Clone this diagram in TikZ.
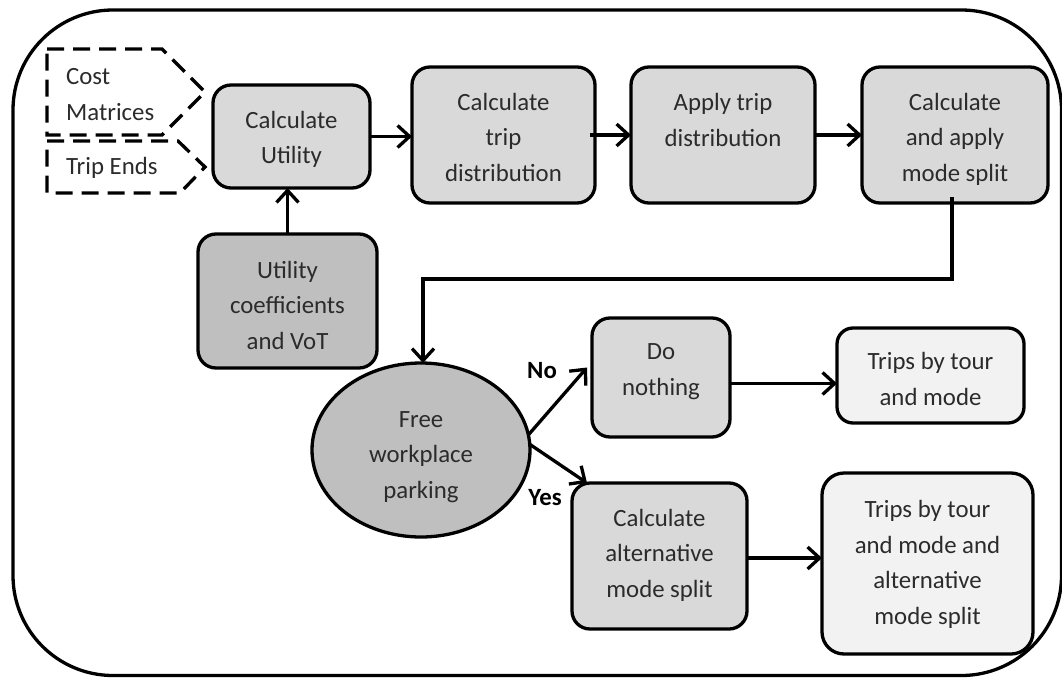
\documentclass[tikz,border=0pt]{standalone}
\usepackage{fontspec}
\setmainfont{Carlito}
\usetikzlibrary{arrows.meta,shapes.geometric}
\definecolor{ink}{HTML}{2B2B2B}
\definecolor{procfill}{HTML}{D9D9D9}
\definecolor{inputfill}{HTML}{BFBFBF}
\definecolor{outfill}{HTML}{F2F2F2}
\newcommand{\bodyfont}{\fontsize{24.8pt}{35.5pt}\selectfont}
\tikzset{
  box/.style={draw=black, line width=3.3pt, rounded corners=18pt, anchor=north west,
    inner sep=0pt, outer sep=0pt},
  proc/.style={box, fill=procfill},
  inbox/.style={box, fill=inputfill},
  outbox/.style={box, fill=outfill},
  % base anchor of a multi-line node sits on its last line
  txt/.style={font=\bodyfont, text=ink, align=center, inner sep=0pt, anchor=base},
  lefttxt/.style={font=\bodyfont, text=ink, inner sep=0pt, anchor=west},
  choice/.style={font=\bodyfont\bfseries, text=black, inner sep=0pt},
  dashbox/.style={draw=black, line width=3.3pt, dash pattern=on 17pt off 9pt},
  arr/.style={line width=3.3pt, -{Straight Barb[length=12pt,width=22pt]}},
}
\begin{document}
\begin{tikzpicture}[x=1pt, y=-1pt]
\useasboundingbox (0,0) rectangle (1062,677);

% outer frame
\draw[line width=3.3pt, rounded corners=100pt] (13,10) rectangle (1061.5,675.5);

% dashed input shapes
\draw[dashbox] (47,49) -- (162,49) -- (205,92) -- (162,135) -- (47,135) -- cycle;
\draw[dashbox] (47,141) -- (178,141) -- (205,167) -- (180,193) -- (47,193) -- cycle;
\node[lefttxt] (costA) at (66,77) {Cost};
\node[lefttxt] (costB) at (66,112) {Matrices};
\node[lefttxt] (ends) at (66,168) {Trip Ends};

% process boxes
\node[proc, minimum width=157pt, minimum height=103pt] (util) at (213,85) {};
\node[proc, minimum width=183pt, minimum height=136pt] (trip) at (412,67) {};
\node[proc, minimum width=184pt, minimum height=136pt] (apply) at (631,67) {};
\node[proc, minimum width=186pt, minimum height=136pt] (mode) at (862,67) {};
\node[inbox, minimum width=179pt, minimum height=134pt] (coef) at (198,234) {};
\node[proc, minimum width=138pt, minimum height=119pt] (none) at (592,318) {};
\node[outbox, minimum width=187pt, minimum height=95pt, rounded corners=16pt] (tt) at (837,328) {};
\node[proc, minimum width=175pt, minimum height=146pt] (alt) at (572,483) {};
\node[outbox, minimum width=211pt, minimum height=181pt, rounded corners=22pt] (tta) at (822,473) {};
\node[ellipse, draw=black, line width=3.3pt, fill=inputfill, minimum width=218pt,
      minimum height=174pt, inner sep=0pt, outer sep=0pt] (park) at (421,450) {};

% box texts (placed on the baseline of their last line)
\node[txt] (utilT) at ([yshift=-78.5pt]util.north) {Calculate\\Utility};
\node[txt] (tripT) at ([yshift=-114pt]trip.north) {Calculate\\trip\\distribution};
\node[txt] (applyT) at ([yshift=-79pt]apply.north) {Apply trip\\distribution};
\node[txt] (modeT) at ([yshift=-114pt]mode.north) {Calculate\\and apply\\mode split};
\node[txt] (coefT) at ([yshift=-115pt]coef.north) {Utility\\coefficients\\and VoT};
\node[txt] (noneT) at ([yshift=-77pt]none.north) {Do\\nothing};
\node[txt] (ttT) at ([yshift=-77pt]tt.north) {Trips by tour\\and mode};
\node[txt] (altT) at ([yshift=-114pt]alt.north) {Calculate\\alternative\\mode split};
\node[txt] (ttaT) at ([yshift=-151pt]tta.north) {Trips by tour\\and mode and\\alternative\\mode split};
\node[txt] (parkT) at (421,498) {Free\\workplace\\parking};

% decision labels
\node[choice] (no) at (542,371) {No};
\node[choice] (yes) at (545,498) {Yes};

% connectors
\coordinate (bend) at (423,279);
\draw[arr] (util.east) -- (util.east -| trip.west);
\draw[arr] ([xshift=-5pt]trip.east) -- (apply.west);
\draw[arr] (apply.east) -- (mode.west);
\draw[arr] (coef.north) -- (coef.north |- util.south);
\draw[arr] ([xshift=-3pt,yshift=6pt]mode.south) |- (bend) -- (bend |- park.north);
\draw[arr] (park.8) -- ([xshift=-5pt,yshift=10pt]none.west);
\draw[arr] (park.3) -- ([xshift=15pt]alt.north west);
\draw[arr] ([yshift=-6pt]none.east) -- ([yshift=-6pt]none.east -| tt.west);
\draw[arr] ([yshift=-2pt]alt.east) -- ([yshift=-2pt]alt.east -| tta.west);
\end{tikzpicture}
\end{document}
